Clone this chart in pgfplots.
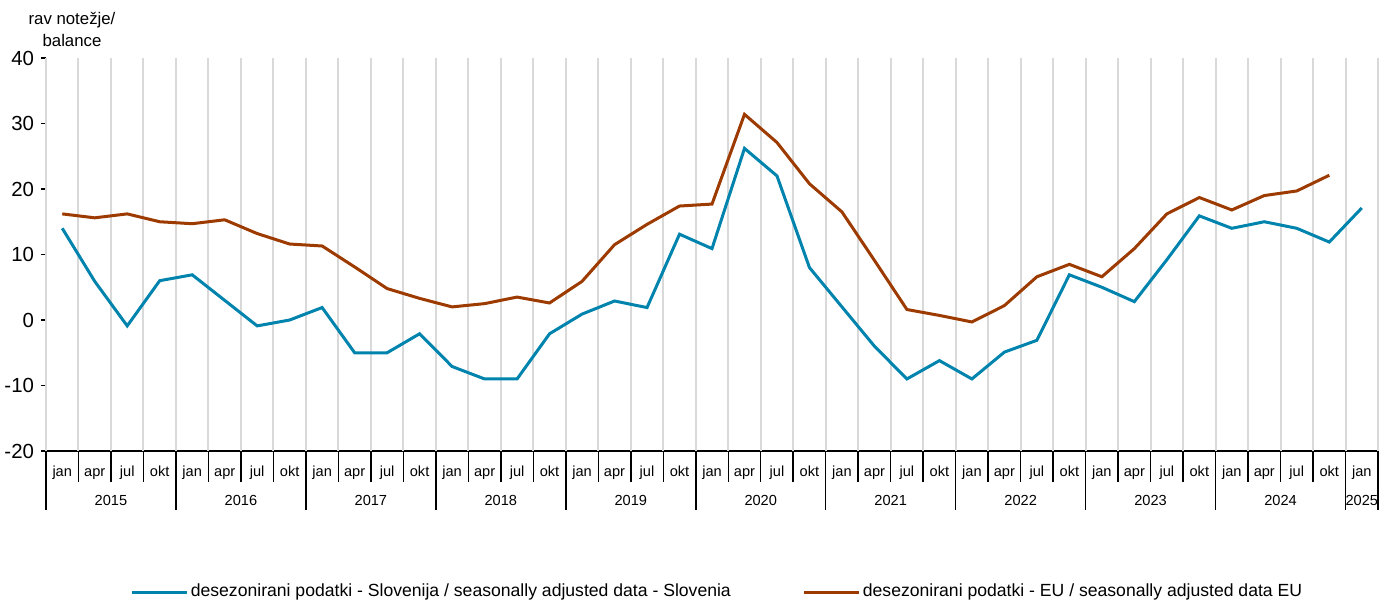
\documentclass[border=0pt]{standalone}
\usepackage{pgfplots}
\pgfplotsset{compat=1.18}
\usepackage{fontspec}
\setmainfont{Liberation Sans}
\definecolor{sblue}{HTML}{0084AE}
\definecolor{eubrown}{HTML}{9C3A00}
\definecolor{gridgray}{HTML}{D9D9D9}
\begin{document}
\begin{tikzpicture}
\begin{axis}[
  scale only axis,
  width=666bp, height=196.5bp,
  at={(0,0)}, anchor=south west,
  xmin=-0.5, xmax=40.5, ymin=-20, ymax=40,
  clip=false,
  axis lines*=left,
  axis line style={black, line width=0.75bp, -},
  tick align=outside,
  major tick length=2.5bp,
  ytick={-20,-10,0,10,20,30,40},
  yticklabel style={font=\fontsize{10.2bp}{12bp}\selectfont, /pgf/number format/assume math mode=true},
  tick style={black, line width=0.75bp},
  xtick={0,...,40},
  xticklabels={jan,apr,jul,okt,jan,apr,jul,okt,jan,apr,jul,okt,jan,apr,jul,okt,jan,apr,jul,okt,jan,apr,jul,okt,jan,apr,jul,okt,jan,apr,jul,okt,jan,apr,jul,okt,jan,apr,jul,okt,jan},
  x tick style={draw=none},
  xticklabel style={font=\fontsize{7.3bp}{8bp}\selectfont, anchor=base, yshift=-10bp},
  extra x ticks={-0.5,0.5,...,40.5},
  extra x tick labels={},
  extra x tick style={
    major tick length=15.5bp,
    x tick style={draw=black, line width=0.75bp},
    xmajorgrids=true,
    major grid style={gridgray, line width=1bp},
  },
  legend columns=2,
  legend style={draw=none, fill=none, at={(0.5,0)}, anchor=center, yshift=-70.5bp, xshift=2.75bp,
    font=\fontsize{8.8bp}{10bp}\selectfont,
    /tikz/every even column/.append style={column sep=35bp},
    nodes={inner sep=1bp}},
  legend image code/.code={\draw[#1] (0bp,0bp) -- (27.5bp,0bp);},
]
\addplot[sblue, line width=1.5bp] coordinates {
(0,14) (1,5.9) (2,-0.9) (3,6) (4,6.9) (5,3) (6,-0.9) (7,0) (8,1.9) (9,-5) (10,-5)
(11,-2.1) (12,-7.1) (13,-9) (14,-9) (15,-2.1) (16,0.9) (17,2.9) (18,1.9) (19,13.1) (20,10.9)
(21,26.2) (22,22) (23,8) (24,2) (25,-4) (26,-9) (27,-6.2) (28,-9) (29,-4.9) (30,-3.1)
(31,6.9) (32,5) (33,2.8) (34,9.2) (35,15.9) (36,14) (37,15) (38,14) (39,11.9) (40,17.1)
};
\addlegendentry{desezonirani podatki - Slovenija / seasonally adjusted data - Slovenia}
\addplot[eubrown, line width=1.5bp] coordinates {
(0,16.2) (1,15.6) (2,16.2) (3,15) (4,14.7) (5,15.3) (6,13.2) (7,11.6) (8,11.3) (9,8.1) (10,4.8)
(11,3.3) (12,2) (13,2.5) (14,3.5) (15,2.6) (16,5.9) (17,11.5) (18,14.6) (19,17.4) (20,17.7)
(21,31.4) (22,27.1) (23,20.8) (24,16.5) (25,9.1) (26,1.6) (27,0.7) (28,-0.3) (29,2.2) (30,6.6)
(31,8.5) (32,6.6) (33,10.9) (34,16.2) (35,18.7) (36,16.8) (37,19) (38,19.7) (39,22.1)
};
\addlegendentry{desezonirani podatki - EU / seasonally adjusted data EU}
\pgfplotsinvokeforeach{-0.5,3.5,7.5,11.5,15.5,19.5,23.5,27.5,31.5,35.5,39.5,40.5}{
  \draw[black, line width=0.75bp] (axis cs:#1,-20) -- ([yshift=-29.5bp]axis cs:#1,-20);
}
\node[font=\fontsize{7.3bp}{8bp}\selectfont, anchor=base] at (axis cs:1.5,-20) [yshift=-27bp] {2015};
\node[font=\fontsize{7.3bp}{8bp}\selectfont, anchor=base] at (axis cs:5.5,-20) [yshift=-27bp] {2016};
\node[font=\fontsize{7.3bp}{8bp}\selectfont, anchor=base] at (axis cs:9.5,-20) [yshift=-27bp] {2017};
\node[font=\fontsize{7.3bp}{8bp}\selectfont, anchor=base] at (axis cs:13.5,-20) [yshift=-27bp] {2018};
\node[font=\fontsize{7.3bp}{8bp}\selectfont, anchor=base] at (axis cs:17.5,-20) [yshift=-27bp] {2019};
\node[font=\fontsize{7.3bp}{8bp}\selectfont, anchor=base] at (axis cs:21.5,-20) [yshift=-27bp] {2020};
\node[font=\fontsize{7.3bp}{8bp}\selectfont, anchor=base] at (axis cs:25.5,-20) [yshift=-27bp] {2021};
\node[font=\fontsize{7.3bp}{8bp}\selectfont, anchor=base] at (axis cs:29.5,-20) [yshift=-27bp] {2022};
\node[font=\fontsize{7.3bp}{8bp}\selectfont, anchor=base] at (axis cs:33.5,-20) [yshift=-27bp] {2023};
\node[font=\fontsize{7.3bp}{8bp}\selectfont, anchor=base] at (axis cs:37.5,-20) [yshift=-27bp] {2024};
\node[font=\fontsize{7.3bp}{8bp}\selectfont, anchor=base] at (axis cs:40,-20) [yshift=-27bp] {2025};
\node[font=\fontsize{8.4bp}{11bp}\selectfont, align=center] at (rel axis cs:0,1) [xshift=13bp, yshift=14.5bp] {rav notežje/\\balance};
\end{axis}
\pgfresetboundingbox
\path[use as bounding box] (-23bp,-74.5bp) rectangle (666.5bp,225.5bp);
\end{tikzpicture}
\end{document}
